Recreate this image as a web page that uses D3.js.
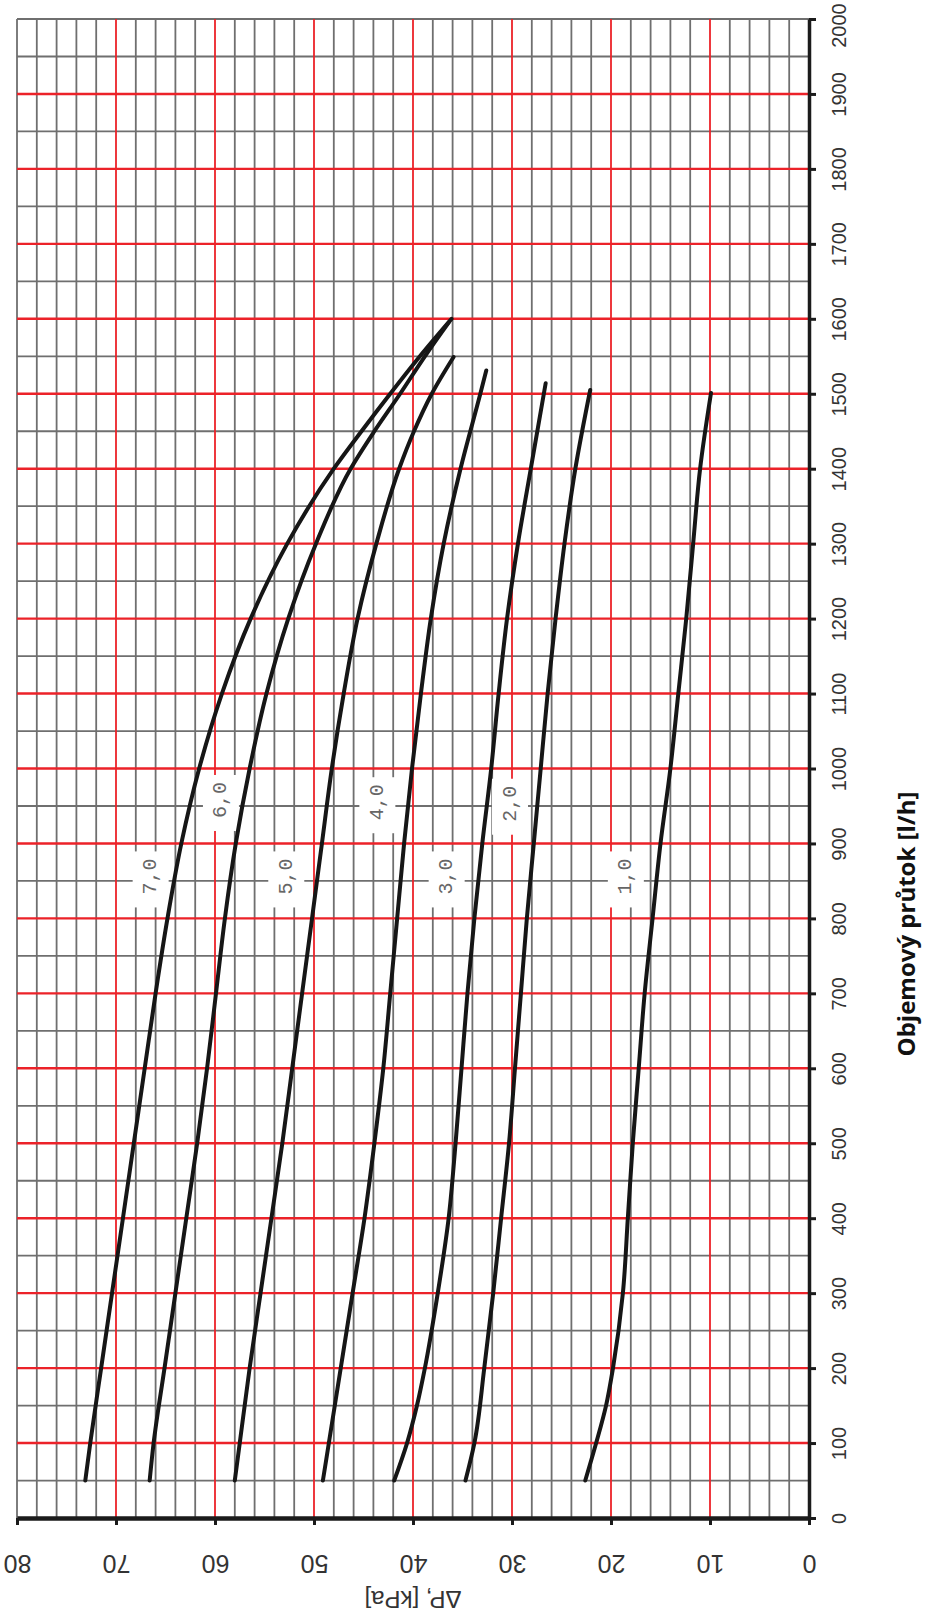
<!DOCTYPE html>
<html>
<head>
<meta charset="utf-8">
<script src="https://cdn.jsdelivr.net/npm/d3@7"></script>
<style>
  body { margin: 0; background: #fff; }
  svg { display: block; }
</style>
</head>
<body>
<div id="chart"></div>
<script>
// Chart is drawn rotated: flow runs bottom -> top, pressure drop runs right -> left
const W = 925, H = 1617;
const plot = { left: 17, right: 809, top: 19, bottom: 1518 };

// Tick values
const dpTicks = [0, 10, 20, 30, 40, 50, 60, 70, 80];
const flowTicks = [0, 100, 200, 300, 400, 500, 600, 700, 800, 900, 1000,
    1100, 1200, 1300, 1400, 1500, 1600, 1700, 1800, 1900, 2000];

// Curves: flow [l/h] and pressure drop [kPa] per presetting
const flow7 = [50, 100, 200, 300, 400, 500, 600, 700, 800, 900, 1000, 1100, 1200, 1300, 1400, 1450, 1500, 1550, 1600];
const dp7 = [73.1, 72.6, 71.5, 70.4, 69.3, 68.2, 67.1, 66.0, 64.8, 63.4, 61.6, 59.3, 56.4, 52.7, 48.0, 45.2, 42.3, 39.3, 36.1];

const flow6 = [50, 100, 200, 300, 400, 500, 600, 700, 800, 900, 1000, 1100, 1200, 1300, 1400, 1450, 1500, 1550, 1595];
const dp6 = [66.6, 66.2, 65.1, 64.0, 62.9, 61.8, 60.8, 59.9, 59.0, 57.9, 56.5, 54.8, 52.6, 49.8, 46.3, 43.9, 41.3, 38.8, 36.4];

const flow5 = [50, 100, 200, 300, 400, 500, 600, 700, 800, 900, 1000, 1100, 1200, 1300, 1400, 1450, 1500, 1549];
const dp5 = [58.0, 57.5, 56.5, 55.4, 54.3, 53.2, 52.2, 51.2, 50.2, 49.2, 48.2, 47.0, 45.6, 43.7, 41.4, 39.9, 38.1, 35.9];

const flow4 = [50, 100, 200, 300, 400, 500, 600, 700, 800, 900, 1000, 1100, 1200, 1300, 1400, 1500, 1531];
const dp4 = [49.1, 48.5, 47.3, 46.1, 44.9, 43.9, 43.0, 42.3, 41.6, 40.9, 40.1, 39.2, 38.2, 36.9, 35.2, 33.2, 32.6];

const flow3 = [50, 100, 150, 200, 300, 400, 500, 600, 700, 800, 900, 1000, 1100, 1200, 1300, 1400, 1514];
const dp3 = [41.9, 40.6, 39.6, 38.8, 37.5, 36.4, 35.7, 35.1, 34.5, 33.8, 33.0, 32.1, 31.35, 30.5, 29.4, 28.1, 26.6];

const flow2 = [50, 100, 200, 300, 400, 500, 600, 700, 800, 900, 1000, 1100, 1200, 1300, 1400, 1505];
const dp2 = [34.7, 33.8, 32.8, 31.9, 31.1, 30.3, 29.7, 29.1, 28.5, 27.8, 27.1, 26.4, 25.6, 24.7, 23.6, 22.1];

const flow1 = [50, 100, 150, 200, 300, 400, 500, 600, 700, 800, 900, 1000, 1100, 1200, 1300, 1400, 1501];
const dp1 = [22.6, 21.5, 20.5, 19.8, 18.8, 18.3, 17.8, 17.2, 16.6, 15.8, 15.0, 14.0, 13.2, 12.4, 11.7, 11.0, 9.9];

// Curve labels
const labelNames = ["7,0", "6,0", "5,0", "4,0", "3,0", "2,0", "1,0"];
const labelFlow = [856, 958, 856, 955, 856, 953, 856];
const labelDp = [66.5, 59.4, 52.8, 43.6, 36.6, 30.2, 18.5];

const series = [
    [flow7, dp7], [flow6, dp6], [flow5, dp5], [flow4, dp4],
    [flow3, dp3], [flow2, dp2], [flow1, dp1]
];

const svg = d3.select("#chart").append("svg")
    .attr("width", W)
    .attr("height", H);

svg.append("rect").attr("width", W).attr("height", H).attr("fill", "#fff");

// Scales
const x = d3.scaleLinear().domain([0, 80]).range([plot.right, plot.left]);
const y = d3.scaleLinear().domain([0, 2000]).range([plot.bottom, plot.top]);

// Minor grid (gray)
const gray = "#6f6f6f", red = "#ec2229";
const grid = svg.append("g");
grid.selectAll("line.vminor")
    .data(d3.range(2, 81, 2).filter(d => d % 10 !== 0 || d === 80))
    .enter().append("line")
    .attr("x1", d => x(d)).attr("x2", d => x(d))
    .attr("y1", y(2000)).attr("y2", y(0))
    .attr("stroke", gray).attr("stroke-width", 1.8);
grid.selectAll("line.hminor")
    .data(d3.range(50, 2001, 50).filter(d => d % 100 !== 0 || d === 2000))
    .enter().append("line")
    .attr("x1", x(80)).attr("x2", x(0))
    .attr("y1", d => y(d)).attr("y2", d => y(d))
    .attr("stroke", gray).attr("stroke-width", 1.8);

// Major grid (red)
grid.selectAll("line.vmajor")
    .data(d3.range(10, 80, 10))
    .enter().append("line")
    .attr("x1", d => x(d)).attr("x2", d => x(d))
    .attr("y1", y(2000)).attr("y2", y(0))
    .attr("stroke", red).attr("stroke-width", 1.8);
grid.selectAll("line.hmajor")
    .data(d3.range(100, 2000, 100))
    .enter().append("line")
    .attr("x1", x(80)).attr("x2", x(0))
    .attr("y1", d => y(d)).attr("y2", d => y(d))
    .attr("stroke", red).attr("stroke-width", 2.4);

// Label boxes (white patches over the grid)
const labels = svg.append("g");
labelNames.forEach((name, i) => {
    const cx = x(labelDp[i]), cy = y(labelFlow[i]);
    labels.append("rect")
        .attr("x", cx - 18).attr("y", cy - 25)
        .attr("width", 36).attr("height", 56)
        .attr("fill", "#fff");
    labels.append("text")
        .attr("transform", `translate(${cx},${cy}) rotate(-90)`)
        .attr("text-anchor", "middle")
        .attr("dominant-baseline", "central")
        .attr("font-family", "'Liberation Mono', 'DejaVu Sans Mono', monospace")
        .attr("font-size", 20)
        .attr("fill", "#666")
        .text(name);
});

// Curves
const line = d3.line()
    .x(d => x(d[1]))
    .y(d => y(d[0]))
    .curve(d3.curveMonotoneY);

svg.append("g").selectAll("path")
    .data(series.map(s => s[0].map((f, i) => [f, s[1][i]])))
    .enter().append("path")
    .attr("d", line)
    .attr("fill", "none")
    .attr("stroke", "#161616")
    .attr("stroke-width", 4)
    .attr("stroke-linecap", "round");

// Pressure axis (bottom, labels upside down)
const xAxis = d3.axisBottom(x).tickValues(dpTicks).tickSize(7).tickSizeOuter(0)
    .tickFormat(d3.format("d"));
const gx = svg.append("g")
    .attr("transform", `translate(0,${plot.bottom})`)
    .call(xAxis);
gx.select(".domain").attr("stroke", "#1b1b1b").attr("stroke-width", 4.5);
gx.selectAll(".tick line").attr("stroke", "#1b1b1b").attr("stroke-width", 3);
gx.selectAll(".tick text")
    .attr("y", 0).attr("dy", 0)
    .attr("transform", "translate(0,37) rotate(180)")
    .attr("text-anchor", "middle")
    .attr("font-family", "'Liberation Sans', Arial, sans-serif")
    .attr("font-size", 25)
    .attr("fill", "#333");

// Flow axis (right, labels rotated); top label nudged down to stay on the page
const yAxis = d3.axisRight(y).tickValues(flowTicks).tickSize(7).tickSizeOuter(0)
    .tickFormat(d3.format("d"));
const gy = svg.append("g")
    .attr("transform", `translate(${plot.right},0)`)
    .call(yAxis);
gy.select(".domain").attr("stroke", "#1b1b1b").attr("stroke-width", 3.5);
gy.selectAll(".tick line").attr("stroke", "#1b1b1b").attr("stroke-width", 3);
gy.selectAll(".tick text")
    .attr("x", 0).attr("dy", 0)
    .attr("transform", d => `translate(37,${d === 2000 ? 6 : 0}) rotate(-90)`)
    .attr("text-anchor", "middle")
    .attr("font-family", "'Liberation Sans', Arial, sans-serif")
    .attr("font-size", 20)
    .attr("fill", "#333");

// Axis titles
svg.append("text")
    .attr("transform", `translate(${x(40)},1591) rotate(180)`)
    .attr("text-anchor", "middle")
    .attr("font-family", "'Liberation Sans', Arial, sans-serif")
    .attr("font-size", 24)
    .attr("fill", "#333")
    .text("ΔP, [kPa]");

svg.append("text")
    .attr("transform", "translate(915,924) rotate(-90)")
    .attr("text-anchor", "middle")
    .attr("font-family", "'Open Sans', sans-serif")
    .attr("font-weight", "bold")
    .attr("font-size", 24)
    .attr("fill", "#111")
    .text("Objemový průtok [l/h]");
</script>
</body>
</html>
